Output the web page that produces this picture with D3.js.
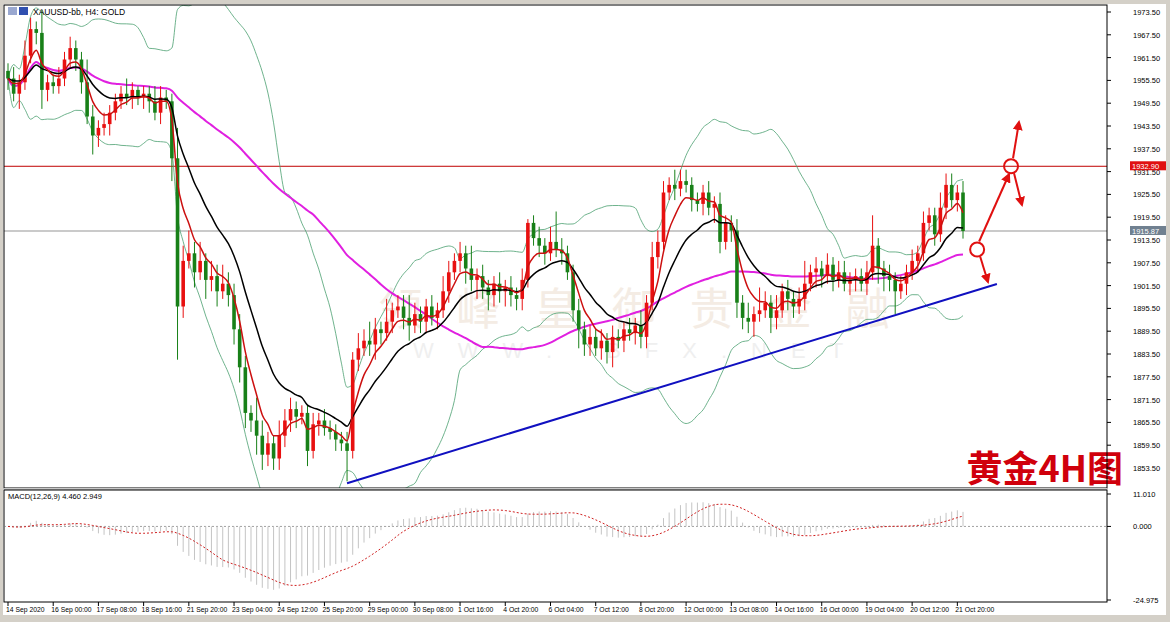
<!DOCTYPE html>
<html><head><meta charset="utf-8">
<script src="https://cdn.jsdelivr.net/npm/d3@7/dist/d3.min.js"></script>
<style>body{margin:0;background:#fff;}svg{display:block;font-family:"Liberation Sans",sans-serif;}</style>
</head><body><svg id="c" width="1170" height="622"></svg>
<script>
const closes=[
1956,1952,1955,1962,1969,1968,1953,1955,1954,1956,
1961,1964,1961,1955,1946,1941,1943,1944,1947,1950,
1952,1951,1953,1951,1952,1950,1947,1951,1950,1935,
1896,1908,1910,1905,1908,1903,1904,1900,1902,1899,
1890,1880,1868,1866,1862,1857,1860,1856,1862,1866,
1869,1867,1868,1858,1865,1866,1864,1863,1861,1860,
1858,1882,1885,1887,1886,1890,1889,1892,1895,1896,
1893,1891,1894,1892,1896,1893,1895,1900,1905,1908,
1910,1906,1903,1904,1901,1899,1902,1900,1901,1899,
1898,1903,1918,1914,1912,1910,1913,1911,1910,1905,
1895,1890,1886,1888,1885,1887,1884,1888,1887,1890,
1889,1891,1888,1897,1909,1913,1926,1928,1927,1929,
1928,1924,1923,1926,1922,1923,1913,1918,1916,1897,
1893,1892,1894,1895,1897,1893,1895,1900,1898,1896,
1898,1902,1905,1906,1904,1907,1903,1905,1902,1903,
1904,1902,1905,1912,1906,1904,1903,1900,1902,1905,
1908,1910,1918,1920,1915,1922,1928,1924,1926,1915.87];
const firstOpen=1958;
const wickUp=[
2,3,2,4,3,2,6,2,2,3, 2,3,2,2,6,3,2,3,2,2, 2,4,2,1,2,2,4,3,2,2,
8,4,6,3,5,2,4,3,5,3, 3,4,3,2,6,4,3,2,4,3, 3,2,2,2,3,2,3,2,2,2,
3,2,4,3,5,3,2,6,2,3, 3,6,3,2,2,3,2,4,3,2, 3,2,6,2,3,2,2,3,2,3,
2,3,1,2,3,2,4,8,3,2, 2,3,2,3,2,3,2,3,2,2, 3,2,4,2,4,3,3,2,4,3,
3,2,2,2,3,2,3,2,2,3, 2,4,2,6,3,2,4,2,3,2, 3,6,2,3,2,3,2,3,3,2,
2,2,3,8,2,2,3,2,2,2, 3,2,3,2,2,4,3,3,2,3];
const wickDn=[
3,2,4,2,2,3,5,3,2,2, 2,2,3,3,2,5,3,2,3,2, 2,2,3,2,3,3,2,3,2,6,
14,3,2,4,2,5,3,4,2,3, 4,4,4,3,5,4,3,3,3,3, 3,3,2,4,2,3,2,2,3,2,
8,2,3,2,3,4,3,2,3,2, 3,4,2,3,3,2,3,2,3,2, 3,4,3,5,3,4,3,3,4,3,
3,3,2,2,3,3,2,2,3,2, 3,5,3,3,2,3,3,4,2,3, 2,3,3,3,2,3,2,2,3,2,
2,3,2,3,2,4,3,2,3,4, 3,3,4,2,2,4,3,2,3,3, 2,3,2,4,3,2,3,2,2,3,
3,2,3,2,4,4,3,6,2,3, 2,3,2,2,3,2,3,2,3,2];
const timeLabels=["14 Sep 2020","16 Sep 00:00","17 Sep 08:00","18 Sep 16:00","21 Sep 20:00","23 Sep 04:00","24 Sep 12:00","25 Sep 20:00","29 Sep 00:00","30 Sep 08:00","1 Oct 16:00","4 Oct 20:00","6 Oct 04:00","7 Oct 12:00","8 Oct 20:00","12 Oct 00:00","13 Oct 08:00","14 Oct 16:00","16 Oct 00:00","19 Oct 04:00","20 Oct 12:00","21 Oct 20:00"];
const priceTicks=[1973.5,1967.5,1961.5,1955.5,1949.5,1943.5,1937.5,1931.5,1925.5,1919.5,1913.5,1907.5,1901.5,1895.5,1889.5,1883.5,1877.5,1871.5,1865.5,1859.5,1853.5];
const macdTicks=[11.010,0,-24.975];
const resistance=1932.90, lastPrice=1915.87;
const trendLine=[[60,1849.5],[175,1901.9]];

const svg=d3.select("#c");
const L=4,R=1107,T=5,MB=488,MT=490,B=602;
const x=d3.scaleLinear().domain([0,169]).range([8,963]);
const y=d3.scaleLinear().domain([1853.5,1973.5]).range([468,12]);
const ym=d3.scaleLinear().domain([-24.975,11.010]).range([600,494]);

svg.append("rect").attr("width",1170).attr("height",622).attr("fill","#fff");
svg.append("rect").attr("width",1170).attr("height",4).attr("fill","#d4d0c8");
svg.append("rect").attr("y",615).attr("width",1170).attr("height",7).attr("fill","#d4d0c8");
svg.append("rect").attr("width",3).attr("height",622).attr("fill","#d4d0c8");
svg.append("rect").attr("x",1166).attr("width",4).attr("height",622).attr("fill","#d4d0c8");

const opens=closes.map((c,i)=>i===0?firstOpen:closes[i-1]);
const highs=closes.map((c,i)=>Math.max(c,opens[i])+wickUp[i]);
const lows=closes.map((c,i)=>Math.min(c,opens[i])-wickDn[i]);

function ema(a,p){const k=2/(p+1);let r=[],e=a[0];a.forEach((v,i)=>{e=i?v*k+e*(1-k):v;r.push(e);});return r;}
function sma(a,p){return a.map((v,i)=>d3.mean(a.slice(Math.max(0,i-p+1),i+1)));}
function sd(a,p){return a.map((v,i)=>d3.deviation(a.slice(Math.max(0,i-p+1),i+1))||0);}
const fast=ema(closes,5), slow=ema(closes,13), long=sma(closes,55);
const mid=sma(closes,20), dev=sd(closes,20);
const up=mid.map((m,i)=>m+2*dev[i]), dn=mid.map((m,i)=>m-2*dev[i]);
const e26=ema(closes,26);
const macd=ema(closes,12).map((v,i)=>v-e26[i]);
const sig=sma(macd,9);

const g=svg.append("g");
g.append("defs").append("clipPath").attr("id","cp").append("rect").attr("x",L).attr("y",T).attr("width",R-L).attr("height",MB-T);
const main=g.append("g").attr("clip-path","url(#cp)");

main.append("text").attr("x",640).attr("y",325).attr("text-anchor","middle").attr("font-size",44).attr("font-family","Noto Sans CJK SC").attr("fill","#f4ece4").attr("letter-spacing",12).text("领 峰 皇 御 贵 金 融");
main.append("text").attr("x",640).attr("y",358).attr("text-anchor","middle").attr("font-size",22).attr("fill","#efefef").attr("letter-spacing",24).text("WWW.  BFX.NET");

main.append("line").attr("x1",L).attr("x2",R).attr("y1",y(resistance)).attr("y2",y(resistance)).attr("stroke","#c00000");
main.append("line").attr("x1",L).attr("x2",R).attr("y1",y(lastPrice)).attr("y2",y(lastPrice)).attr("stroke","#b8b8b8").attr("stroke-width",1.3);

const line=a=>d3.line().x((d,i)=>x(i)).y(d=>y(d)).curve(d3.curveMonotoneX)(a);
[up,dn].forEach(a=>main.append("path").attr("d",line(a)).attr("fill","none").attr("stroke","#4aa070").attr("stroke-width",0.8));
main.append("path").attr("d",line(long)).attr("fill","none").attr("stroke","#e020e0").attr("stroke-width",2);

const cg=main.append("g");
closes.forEach((c,i)=>{
  const o=opens[i],col=c>=o?"#e81010":"#188018";
  cg.append("line").attr("x1",x(i)).attr("x2",x(i)).attr("y1",y(highs[i])).attr("y2",y(lows[i])).attr("stroke",col);
  const yt=y(Math.max(o,c)),yb=y(Math.min(o,c));
  cg.append("rect").attr("x",x(i)-1.8).attr("y",yt).attr("width",3.6).attr("height",Math.max(1,yb-yt)).attr("fill",col);
});
main.append("path").attr("d",line(slow)).attr("fill","none").attr("stroke","#000").attr("stroke-width",1.5);
main.append("path").attr("d",line(fast)).attr("fill","none").attr("stroke","#cc1010").attr("stroke-width",1.5);

main.append("line").attr("x1",x(trendLine[0][0])).attr("y1",y(trendLine[0][1])).attr("x2",x(trendLine[1][0])).attr("y2",y(trendLine[1][1])).attr("stroke","#1010c0").attr("stroke-width",2);

const red="#e01010";
svg.append("defs").append("marker").attr("id","ah").attr("viewBox","0 0 10 10").attr("refX",8).attr("refY",5).attr("markerWidth",5).attr("markerHeight",5).attr("orient","auto").append("path").attr("d","M0,0L10,5L0,10z").attr("fill",red);
const c1=[x(171.5),y(1911)],c2=[x(177.5),y(1932.9)];
[[c1[0]+2,c1[1]-8,c2[0]-2,c2[1]+8],[c2[0]+2,c2[1]-8,1019,122],[c2[0]+3,c2[1]+7,1022,205],[c1[0]+3,c1[1]+7,988,282]].forEach(a=>
  g.append("line").attr("x1",a[0]).attr("y1",a[1]).attr("x2",a[2]).attr("y2",a[3]).attr("stroke",red).attr("stroke-width",2).attr("marker-end","url(#ah)"));
[c1,c2].forEach(c=>g.append("circle").attr("cx",c[0]).attr("cy",c[1]).attr("r",7).attr("fill","none").attr("stroke",red).attr("stroke-width",2));

g.append("text").attr("x",1123).attr("y",482).attr("text-anchor","end").attr("font-size",36).attr("font-weight","bold").attr("font-family","Noto Sans CJK SC").attr("fill","#d0000c").text("黄金4H图");

g.append("rect").attr("x",8).attr("y",7).attr("width",9).attr("height",8).attr("fill","#9aa8d0");
g.append("rect").attr("x",19).attr("y",7).attr("width",9).attr("height",8).attr("fill","#3050b0");
g.append("text").attr("x",33).attr("y",15).attr("font-size",8.5).text("XAUUSD-bb, H4:  GOLD");

g.append("rect").attr("x",L).attr("y",T).attr("width",R-L).attr("height",MB-T).attr("fill","none").attr("stroke","#000");
g.append("rect").attr("x",L).attr("y",MB).attr("width",R-L).attr("height",MT-MB).attr("fill","#c8c8c8");
g.append("rect").attr("x",L).attr("y",MT).attr("width",R-L).attr("height",B-MT).attr("fill","none").attr("stroke","#000");

priceTicks.forEach(p=>{
  g.append("line").attr("x1",R).attr("x2",R+4).attr("y1",y(p)).attr("y2",y(p)).attr("stroke","#000");
  g.append("text").attr("x",R+26).attr("y",y(p)+3).attr("font-size",7.5).text(p.toFixed(2));
});
[[resistance,"#e01010"],[lastPrice,"#708090"]].forEach(([p,c])=>{
  g.append("rect").attr("x",R+23).attr("y",y(p)-5).attr("width",36).attr("height",9).attr("fill",c);
  g.append("text").attr("x",R+25).attr("y",y(p)+3).attr("font-size",7.5).attr("fill","#fff").text(p.toFixed(2));
});
macdTicks.forEach(v=>{
  g.append("line").attr("x1",R).attr("x2",R+4).attr("y1",ym(v)).attr("y2",ym(v)).attr("stroke","#000");
  g.append("text").attr("x",R+26).attr("y",ym(v)+3).attr("font-size",7.5).text(v.toFixed(3));
});

const mg=g.append("g");
mg.append("line").attr("x1",L).attr("x2",R).attr("y1",ym(0)).attr("y2",ym(0)).attr("stroke","#777").attr("stroke-dasharray","2,2").attr("stroke-width",0.7);
macd.forEach((v,i)=>mg.append("line").attr("x1",x(i)).attr("x2",x(i)).attr("y1",ym(0)).attr("y2",ym(v)).attr("stroke","#c4c4c4"));
mg.append("path").attr("d",d3.line().x((d,i)=>x(i)).y(d=>ym(d)).curve(d3.curveMonotoneX)(sig)).attr("fill","none").attr("stroke","#d02020").attr("stroke-dasharray","2,2");
g.append("text").attr("x",8).attr("y",499).attr("font-size",7.5).text("MACD(12,26,9) 4.460 2.949");

timeLabels.forEach((t,k)=>{
  const xi=x(k*8);
  g.append("line").attr("x1",xi).attr("x2",xi).attr("y1",B).attr("y2",B+4).attr("stroke","#000");
  g.append("text").attr("x",xi-2).attr("y",612).attr("font-size",6.8).text(t);
});
</script></body></html>
